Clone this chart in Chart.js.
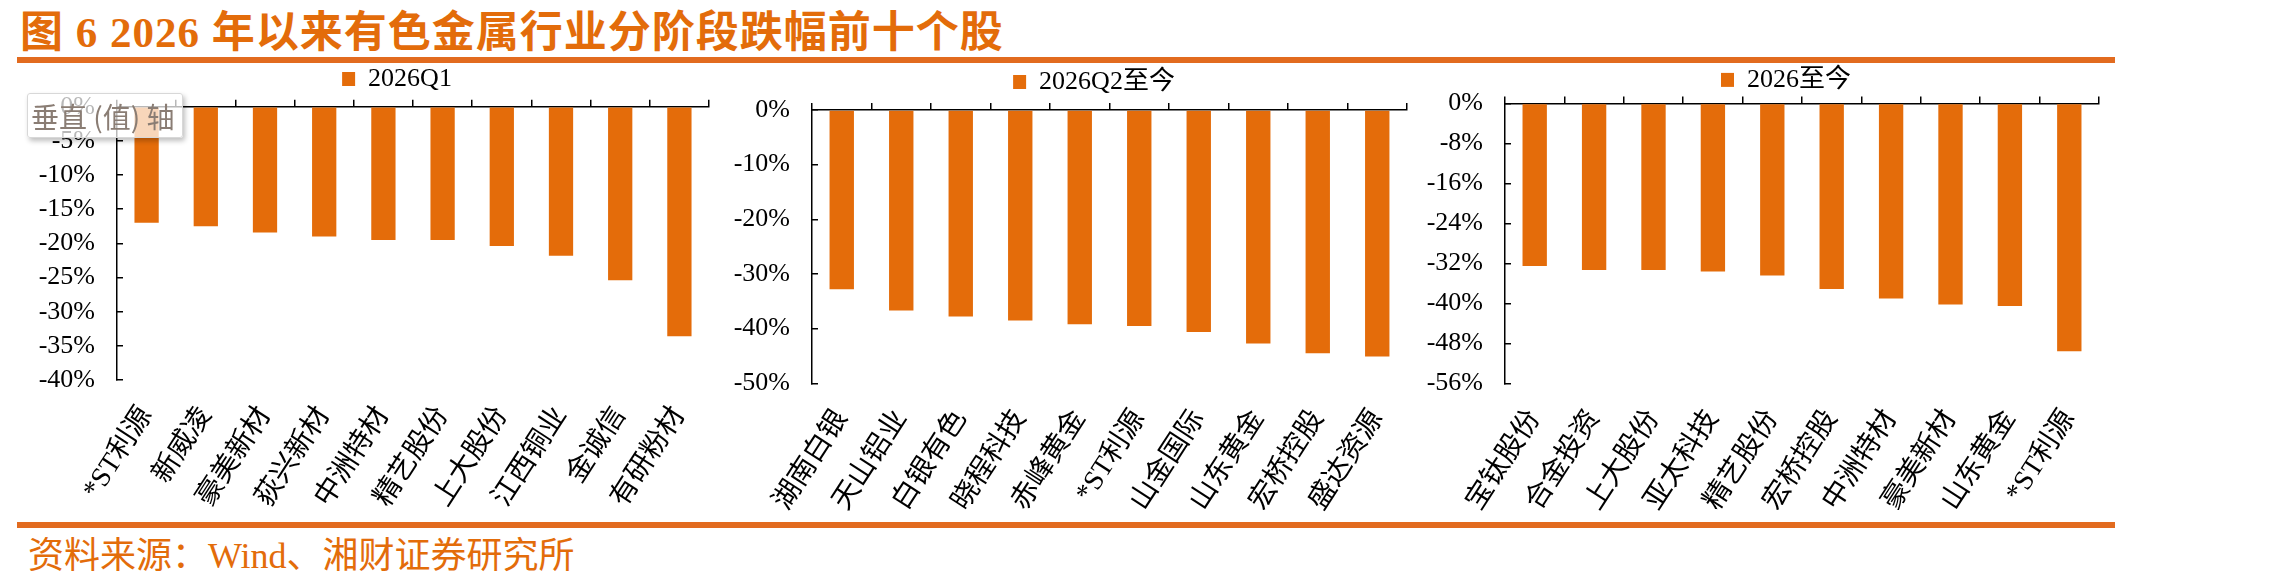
<!DOCTYPE html>
<html lang="zh-CN">
<head>
<meta charset="utf-8">
<title>图6 2026年以来有色金属行业分阶段跌幅前十个股</title>
<script src="https://cdn.jsdelivr.net/npm/chart.js@4.4.1/dist/chart.umd.min.js"></script>
<style>
  html, body { margin: 0; padding: 0; background: #fff; }
  body { width: 2270px; height: 588px; position: relative; overflow: hidden; }
  #title { position: absolute; left: 20px; top: 11px; font: bold 43px "Liberation Serif", "Noto Sans CJK SC", serif; line-height: 1; color: #E36C0A; white-space: nowrap; letter-spacing: 1px; }
  .rule { position: absolute; left: 17px; width: 2098px; height: 6px; background: #E26B1F; }
  #source { position: absolute; left: 28px; top: 538px; font: 36px "Liberation Serif", "Noto Sans CJK SC", serif; line-height: 1; color: #E36C0A; white-space: nowrap; }
  .panel { position: absolute; }
  #tip { position: absolute; left: 27px; top: 93px; width: 156px; height: 45px; background: rgba(255,255,255,0.72); border: 1px solid #d8d8d8; border-radius: 3px; box-shadow: 2px 3px 5px rgba(0,0,0,0.25); font: 28px "Noto Sans CJK SC", sans-serif; line-height: 45px; color: #8a7d74; padding-left: 3px; box-sizing: border-box; white-space: nowrap; }
</style>
</head>
<body>
<div id="title">图 6 2026 年以来有色金属行业分阶段跌幅前十个股</div>
<div class="rule" style="top:57px"></div>

<div class="panel" style="left:0px; top:62px"><canvas id="chartQ1" width="780" height="450"></canvas></div>
<div class="panel" style="left:720px; top:65px"><canvas id="chartQ2" width="745" height="447"></canvas></div>
<div class="panel" style="left:1415px; top:60px"><canvas id="chartYtd" width="742" height="452"></canvas></div>

<div id="tip">垂直 (值) 轴</div>

<div class="rule" style="top:522px"></div>
<div id="source">资料来源：Wind、湘财证券研究所</div>

<script>
// 数据（单位：%）
const q1Labels = ['*ST利源', '新威凌', '豪美新材', '荻兴新材', '中洲特材', '精艺股份', '上大股份', '江西铜业', '金诚信', '有研粉材'];
const q1Values = [-17.0, -17.5, -18.4, -19.0, -19.5, -19.5, -20.4, -21.8, -25.4, -33.6];

const q2Labels = ['湖南白银', '天山铝业', '白银有色', '晓程科技', '赤峰黄金', '*ST利源', '山金国际', '山东黄金', '宏桥控股', '盛达资源'];
const q2Values = [-32.8, -36.7, -37.8, -38.5, -39.2, -39.5, -40.6, -42.7, -44.5, -45.1];

const ytdLabels = ['宝钛股份', '合金投资', '上大股份', '亚太科技', '精艺股份', '宏桥控股', '中洲特材', '豪美新材', '山东黄金', '*ST利源'];
const ytdValues = [-32.5, -33.3, -33.3, -33.6, -34.4, -37.1, -39.0, -40.2, -40.5, -49.6];

const BAR_COLOR = '#E46C0A';
const FONT_FAMILY = "'Liberation Serif', 'Noto Sans CJK SC', serif";

function makeChart(id, labels, values, seriesName, yMin, yStep, box) {
    return new Chart(document.getElementById(id), {
        type: 'bar',
        data: {
            labels: labels,
            datasets: [{
                label: seriesName,
                data: values,
                backgroundColor: BAR_COLOR,
                borderWidth: 0,
                categoryPercentage: 1.0,
                barPercentage: 0.41
            }]
        },
        options: {
            responsive: false,
            animation: false,
            layout: { padding: { left: box.left, right: box.right, top: 0, bottom: 0 } },
            plugins: {
                tooltip: { enabled: false },
                legend: {
                    position: 'top',
                    align: 'center',
                    labels: {
                        boxWidth: 13,
                        boxHeight: 14,
                        padding: 4,
                        color: '#000',
                        font: { family: FONT_FAMILY, size: 26 }
                    }
                }
            },
            scales: {
                x: {
                    position: 'bottom',
                    grid: { display: false, drawTicks: false },
                    border: { display: false },
                    ticks: {
                        autoSkip: false,
                        minRotation: 57,
                        maxRotation: 57,
                        padding: 21,
                        color: '#000',
                        font: { family: FONT_FAMILY, size: 28 }
                    },
                    afterFit: s => { s.height = box.bottomAxis; }
                },
                // 顶部零轴（刻度线朝上）
                xTop: {
                    type: 'category',
                    axis: 'x',
                    position: 'top',
                    offset: true,
                    z: 1,
                    ticks: { display: false },
                    grid: { display: true, offset: true, drawOnChartArea: false, drawTicks: true, tickLength: 7, color: '#000', lineWidth: 1.5 },
                    border: { display: true, color: '#000', width: 1.5 },
                    afterFit: s => { s.height = box.topAxis; }
                },
                y: {
                    min: yMin,
                    max: 0,
                    z: 1,
                    ticks: {
                        stepSize: yStep,
                        maxTicksLimit: 20,
                        autoSkip: false,
                        padding: 28,
                        color: '#000',
                        font: { family: FONT_FAMILY, size: 26 },
                        callback: v => v + '%'
                    },
                    // 负的刻度长度 -> 刻度线朝内
                    grid: { display: true, drawOnChartArea: false, drawTicks: true, tickLength: -6, color: '#000', lineWidth: 1.5 },
                    border: { display: true, color: '#000', width: 1.5 },
                    afterFit: s => { s.width = box.yAxis; }
                },
                // 右侧留白，用来让图例居中于原图位置
                yPad: {
                    type: 'linear',
                    axis: 'y',
                    position: 'right',
                    ticks: { display: false },
                    grid: { display: false },
                    border: { display: false },
                    afterFit: s => { s.width = box.rightGap; }
                }
            }
        }
    });
}

makeChart('chartQ1', q1Labels, q1Values, '2026Q1', -40, 5,
    { left: 20, right: 6, yAxis: 97, rightGap: 65, topAxis: 4.7, bottomAxis: 132 });
makeChart('chartQ2', q2Labels, q2Values, '2026Q2至今', -50, 10,
    { left: 7, right: 4, yAxis: 85, rightGap: 54, topAxis: 5, bottomAxis: 128.7 });
makeChart('chartYtd', ytdLabels, ytdValues, '2026至今', -56, 8,
    { left: 5, right: 5, yAxis: 85, rightGap: 53, topAxis: 0.7, bottomAxis: 128.7 });
</script>
</body>
</html>
